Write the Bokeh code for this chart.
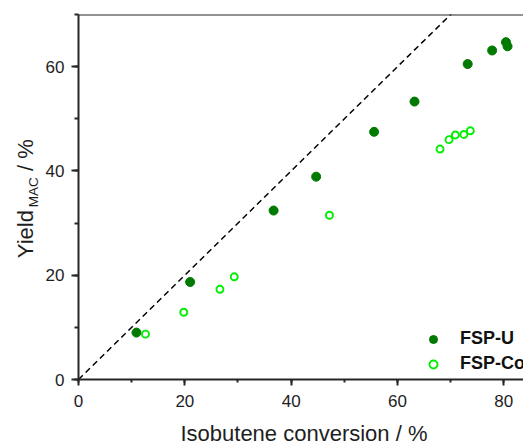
from bokeh.plotting import figure
from bokeh.models import Range1d, SingleIntervalTicker, Span, Legend, LegendItem
from bokeh.layouts import row, column
from bokeh.core.properties import value
from bokeh.embed import file_html
from bokeh.resources import INLINE
import math

# ---- data ----
u_conv = [10.9, 21.0, 36.7, 44.7, 55.6, 63.2, 73.2, 77.8, 80.4, 80.7]
u_yield = [9.0, 18.7, 32.4, 38.9, 47.5, 53.3, 60.5, 63.1, 64.7, 63.9]
co_conv = [12.6, 19.8, 26.6, 29.3, 47.2, 68.0, 69.7, 70.9, 72.5, 73.7]
co_yield = [8.7, 12.9, 17.3, 19.7, 31.5, 44.2, 46.0, 46.9, 47.0, 47.7]
parity_x = [0, 90]
parity_y = [0, 90]
series_names = ["FSP-U", "FSP-Co"]
x_title = "Isobutene conversion / %"
y_title_parts = ["Yield", "MAC", "/ %"]

FONT = "Liberation Sans"
AX = "#262626"
TXT = "#1e1e1e"
LEFT_W = 42
TOP = 14
BOTTOM = 40
MAIN_H = 419
XL_H = 443 - MAIN_H

xr = Range1d(0, 83.7)
yr = Range1d(0, 70)

# ---- main plot ----
p = figure(width=523 - LEFT_W, height=MAIN_H, output_backend="svg", toolbar_location=None,
           x_range=xr, y_range=yr,
           min_border_left=77 - LEFT_W, min_border_right=0,
           min_border_top=TOP, min_border_bottom=BOTTOM)
p.outline_line_color = None
p.grid.visible = False

for ax in (p.xaxis[0], p.yaxis[0]):
    ax.ticker = SingleIntervalTicker(interval=20, num_minor_ticks=2)
    ax.axis_line_color = AX
    ax.axis_line_width = 2
    ax.major_tick_line_color = AX
    ax.major_tick_line_width = 2
    ax.minor_tick_line_color = AX
    ax.minor_tick_line_width = 2
    ax.major_tick_in = 0
    ax.minor_tick_in = 0
    ax.major_label_text_font = FONT
    ax.major_label_text_font_size = "17px"
    ax.major_label_text_color = TXT
    ax.axis_label = None

p.xaxis[0].major_tick_out = 6
p.xaxis[0].minor_tick_out = 3
p.xaxis[0].major_label_standoff = 9
p.yaxis[0].major_tick_out = 7
p.yaxis[0].minor_tick_out = 4
p.yaxis[0].major_label_standoff = 7

# top frame line
p.add_layout(Span(location=70, dimension="width", line_color=AX, line_width=2))

# parity line
p.line(parity_x, parity_y, line_color="black", line_width=1.5, line_dash="6 4")

r_u = p.scatter(u_conv, u_yield, size=9, fill_color="#007A00", line_color="#007A00", line_width=1)
r_co = p.scatter(co_conv, co_yield, size=7, fill_color=None, line_color="#00EE00", line_width=1.9)

legend = Legend(items=[LegendItem(label=series_names[0], renderers=[r_u]),
                       LegendItem(label=series_names[1], renderers=[r_co])],
                location=(345, 5), padding=0, margin=0, spacing=4,
                glyph_width=20, glyph_height=20, label_height=20, label_standoff=17,
                border_line_color=None, background_fill_alpha=0,
                label_text_font=FONT, label_text_font_size="18px",
                label_text_font_style="bold", label_text_color="#111111")
p.add_layout(legend)

# ---- left strip: rotated y-axis title (shares the y scale) ----
yl = figure(width=LEFT_W, height=MAIN_H, output_backend="svg", toolbar_location=None,
            x_range=Range1d(0, LEFT_W), y_range=yr, title=None,
            x_axis_type=None, y_axis_type=None,
            min_border_left=0, min_border_right=0,
            min_border_top=TOP, min_border_bottom=BOTTOM)
yl.outline_line_color = None
yl.grid.visible = False
yl.text(x=[25.4], y=[23.26], text=[y_title_parts[0]], angle=math.pi / 2,
        text_font=value(FONT), text_font_size="22px", text_color=TXT,
        text_align="left", text_baseline="middle")
yl.text(x=[32.8], y=[33.05], text=[y_title_parts[1]], angle=math.pi / 2,
        text_font=value(FONT), text_font_size="13.5px", text_color=TXT,
        text_align="left", text_baseline="middle")
yl.text(x=[25.4], y=[39.97], text=[y_title_parts[2]], angle=math.pi / 2,
        text_font=value(FONT), text_font_size="22px", text_color=TXT,
        text_align="left", text_baseline="middle")

# ---- bottom strip: x-axis title (shares the x scale) ----
xl = figure(width=523, height=XL_H, output_backend="svg", toolbar_location=None,
            x_range=xr, y_range=Range1d(0, XL_H), title=None,
            x_axis_type=None, y_axis_type=None,
            min_border_left=77, min_border_right=0,
            min_border_top=0, min_border_bottom=0)
xl.outline_line_color = None
xl.grid.visible = False
xl.text(x=[42.5], y=[10], text=[x_title], text_font=value(FONT), text_font_size="22px",
        text_color=TXT, text_align="center", text_baseline="middle")

layout = column(row(yl, p, spacing=0), xl, spacing=0)
open("out.html", "w").write(file_html(layout, INLINE))
